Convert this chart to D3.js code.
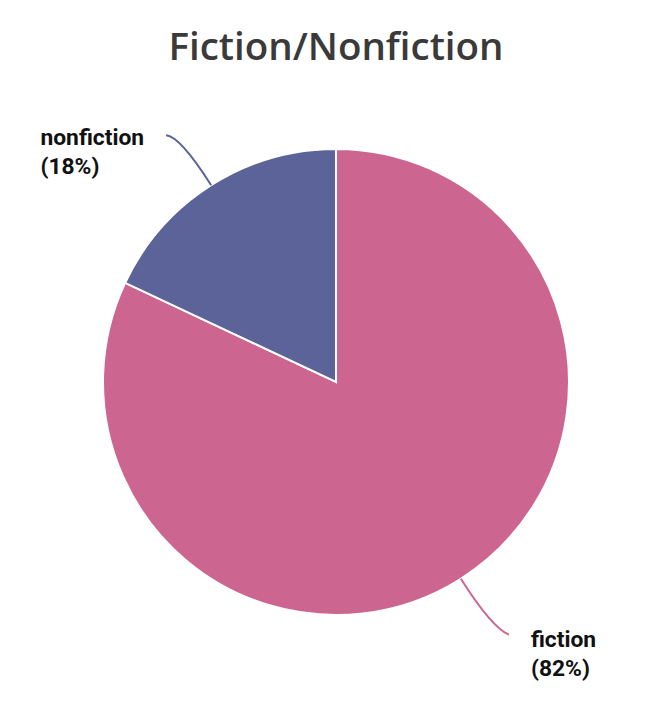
<!DOCTYPE html>
<html>
<head>
<meta charset="utf-8">
<script src="https://d3js.org/d3.v7.min.js"></script>
<style>
html,body{margin:0;padding:0;background:#fff;}
svg{display:block;}
</style>
</head>
<body>
<svg id="chart" width="654" height="707"></svg>
<script>
const categories = ["fiction", "nonfiction"];
const values = [82, 18];
const colors = ["#cc6690", "#5b6399"];
const title = "Fiction/Nonfiction";

const W = 654, H = 707;
const cx = 336, cy = 382, R = 233;
const svg = d3.select("#chart");

svg.append("text")
  .attr("x", 336).attr("y", 60)
  .attr("text-anchor", "middle")
  .attr("font-family", "'Open Sans', sans-serif")
  .attr("font-weight", 600)
  .attr("font-size", 38.5)
  .attr("fill", "#3a3a3a")
  .text(title);

const data = categories.map((c, i) => ({ name: c, value: values[i], color: colors[i] }));
const pie = d3.pie().value(d => d.value).sort(null);
const arcs = pie(data);
const arc = d3.arc().innerRadius(0).outerRadius(R);

const g = svg.append("g").attr("transform", `translate(${cx},${cy})`);
g.selectAll("path.slice").data(arcs).join("path")
  .attr("class", "slice")
  .attr("d", arc)
  .attr("fill", d => d.data.color)
  .attr("stroke", "#fff")
  .attr("stroke-width", 2);

const total = d3.sum(values);
arcs.forEach(a => {
  const mid = (a.startAngle + a.endAngle) / 2;
  const sx = Math.sin(mid), sy = -Math.cos(mid);
  const p0 = [sx * R, sy * R];
  const p1 = [sx * (R + 58), sy * (R + 58)];
  const right = sx > 0;
  const p2 = [p1[0] + (right ? 17 : -14), p1[1] + (right ? 7 : -1)];
  g.append("path")
    .attr("d", `M${p0[0]},${p0[1]} Q${p1[0]},${p1[1]} ${p2[0]},${p2[1]}`)
    .attr("fill", "none")
    .attr("stroke", a.data.color)
    .attr("stroke-width", 2);
  const pct = Math.round(a.data.value / total * 100);
  const t = g.append("text")
    .attr("font-family", "Roboto, sans-serif")
    .attr("font-weight", 700)
    .attr("font-size", 22.8)
    .attr("fill", "#111");
  const lines = [a.data.name, `(${pct}%)`];
  lines.forEach((l, i) => t.append("tspan").attr("x", 0).attr("dy", i === 0 ? 0 : 29).text(l));
  let tx;
  if (right) {
    tx = p2[0] + 22;
  } else {
    const w = t.node().getBBox().width;
    tx = p2[0] - 22 - w;
  }
  t.attr("transform", `translate(${tx},${p2[1] + (right ? 12 : 10)})`);
});
</script>
</body>
</html>
